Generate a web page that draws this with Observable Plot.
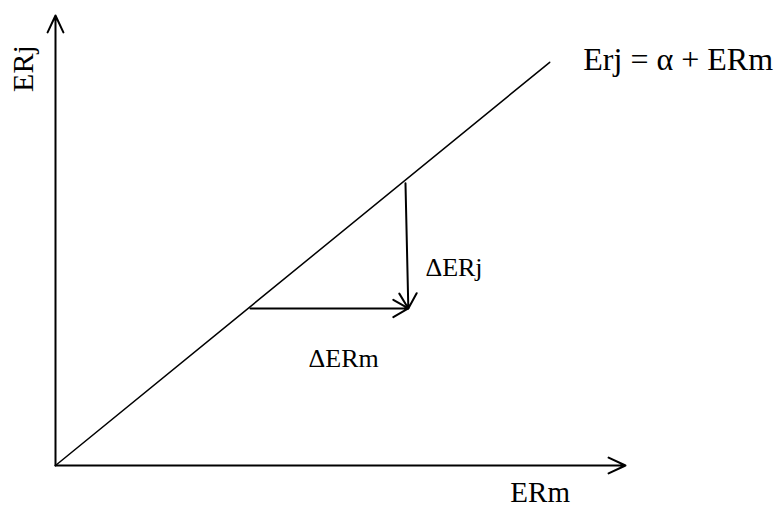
<!DOCTYPE html>
<html>
<head>
<meta charset="utf-8">
<script src="https://cdn.jsdelivr.net/npm/d3@7"></script>
<script src="https://cdn.jsdelivr.net/npm/@observablehq/plot@0.6"></script>
<style>
  html, body { margin: 0; padding: 0; background: #fff; }
</style>
</head>
<body>
<div id="chart"></div>
<script>
// Axes (conceptual units)
const axisArrows = [
  {name: "x axis", x1: 0, y1: 0, x2: 10, y2: 0},
  {name: "y axis", x1: 0, y1: 0, x2: 0, y2: 10}
];
// Characteristic line Erj = α + ERm
const lineX = [0, 8.67];
const lineY = [0, 8.96];
// Change arrows
const deltaArrows = [
  {name: "ΔERm", x1: 3.42, y1: 3.49, x2: 6.19, y2: 3.49},
  {name: "ΔERj", x1: 6.14, y1: 6.27, x2: 6.19, y2: 3.49}
];
// Labels
const labelText = ["Erj = α + ERm", "ΔERj", "ΔERm", "ERm"];
const labelX = [9.26, 6.49, 4.44, 7.98];
const labelY = [8.8, 4.22, 2.2, -0.81];
const labelSize = [32, 26, 26, 29];
const yTitle = "ERj";
const yTitleX = -0.39;
const yTitleY = 8.82;

const lineData = lineX.map((x, i) => ({x, y: lineY[i]}));
const labels = labelText.map((t, i) => ({t, x: labelX[i], y: labelY[i], s: labelSize[i]}));
const font = "Liberation Serif";

const chart = Plot.plot({
  width: 774,
  height: 509,
  margin: 0,
  x: {domain: [-55 / 57, 719 / 57], axis: null},
  y: {domain: [-44 / 45, 465 / 45], axis: null},
  style: {background: "white", fontFamily: font},
  marks: [
    Plot.line(lineData, {x: "x", y: "y", stroke: "black", strokeWidth: 1.5}),
    Plot.arrow(axisArrows, {x1: "x1", y1: "y1", x2: "x2", y2: "y2", stroke: "black", strokeWidth: 2, headLength: 14, headAngle: 50}),
    Plot.arrow(deltaArrows, {x1: "x1", y1: "y1", x2: "x2", y2: "y2", stroke: "black", strokeWidth: 2, headLength: 13, headAngle: 60}),
    ...labels.map(d => Plot.text([d], {x: "x", y: "y", text: "t", fontSize: d.s, textAnchor: "start", lineAnchor: "bottom", fill: "black", fontFamily: font})),
    Plot.text([yTitle], {x: yTitleX, y: yTitleY, text: d => d, rotate: -90, fontSize: 30, textAnchor: "middle", lineAnchor: "bottom", fill: "black", fontFamily: font})
  ]
});
document.getElementById("chart").appendChild(chart);
</script>
</body>
</html>
